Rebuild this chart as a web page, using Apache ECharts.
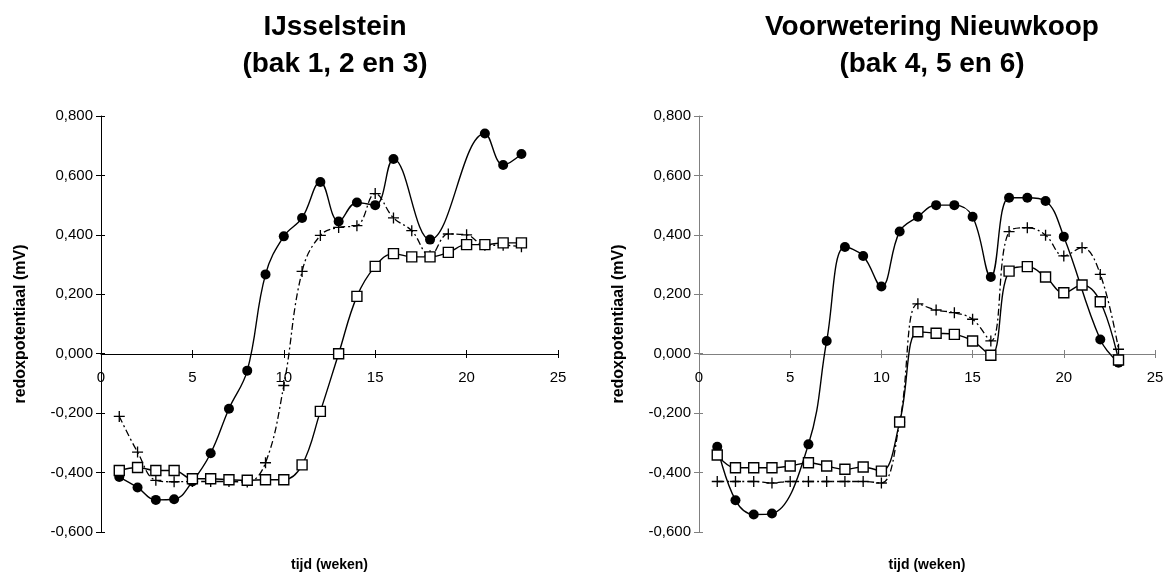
<!DOCTYPE html>
<html>
<head>
<meta charset="utf-8">
<script src="https://cdn.jsdelivr.net/npm/echarts@6/dist/echarts.min.js"></script>
<style>
html, body { margin: 0; padding: 0; background: #fff; }
#main { width: 1171px; height: 576px; }
</style>
</head>
<body>
<div id="main"></div>
<script>
// weken
var weeks = [1, 2, 3, 4, 5, 6, 7, 8, 9, 10, 11, 12, 13, 14, 15, 16, 17, 18, 19, 20, 21, 22, 23];

// IJsselstein, bak 1 / 2 / 3
var ijBak1 = [-0.415, -0.450, -0.492, -0.490, -0.430, -0.335, -0.185, -0.057, 0.267, 0.395, 0.457, 0.578,
	0.445, 0.509, 0.500, 0.655, null, 0.384, null, null, 0.741, 0.635, 0.672];
var ijBak2 = [-0.211, -0.331, -0.426, -0.431, -0.430, -0.430, -0.430, -0.432, -0.367, -0.107, 0.277, 0.398,
	0.425, 0.431, 0.539, 0.457, 0.414, 0.330, 0.403, 0.400, 0.365, 0.365, 0.360];
var ijBak3 = [-0.393, -0.383, -0.393, -0.393, -0.421, -0.421, -0.424, -0.426, -0.424, -0.424, -0.374, -0.194,
	0.000, 0.193, 0.294, 0.337, 0.326, 0.326, 0.341, 0.367, 0.367, 0.373, 0.373];

// Voorwetering Nieuwkoop, bak 4 / 5 / 6
var nkBak4 = [-0.313, -0.493, -0.541, -0.538, null, -0.305, 0.043, 0.359, 0.329, 0.226, 0.411, 0.461,
	0.500, 0.500, 0.461, 0.258, 0.525, 0.525, 0.514, 0.394, null, 0.048, -0.030];
var nkBak5 = [-0.430, -0.430, -0.430, -0.435, -0.430, -0.430, -0.430, -0.430, -0.430, -0.435, -0.230, 0.168,
	0.147, 0.138, 0.116, 0.043, 0.411, 0.424, 0.399, 0.329, 0.357, 0.267, 0.015];
var nkBak6 = [-0.341, -0.384, -0.384, -0.384, -0.378, -0.367, -0.378, -0.389, -0.381, -0.395, -0.230, 0.074,
	0.069, 0.065, 0.043, -0.005, 0.278, 0.293, 0.258, 0.205, 0.231, 0.175, -0.021];

var titles = ['IJsselstein\n(bak 1, 2 en 3)', 'Voorwetering Nieuwkoop\n(bak 4, 5 en 6)'];
var xTicks = [0, 25, 5];          // min, max, interval
var yTicks = [-0.6, 0.8, 0.2];
var fontFam = 'Liberation Sans, Arial, sans-serif';
var plusPath = 'path://M4.4,0H5.6V4.4H10V5.6H5.6V10H4.4V5.6H0V4.4H4.4Z';
// grid: top 116, hoogte 416 -> nul-lijn ligt 178 px boven de onderkant
var zeroOffset = -178;

function pairs(ys) {
	var out = [];
	for (var i = 0; i < weeks.length; i++) {
		out.push([weeks[i], ys[i]]);
	}
	return out;
}

function fmtY(v) {
	return v.toFixed(3).replace('.', ',');
}

function xAxisOf(idx, axisColor) {
	return {
		gridIndex: idx, type: 'value', position: 'bottom', offset: zeroOffset,
		min: xTicks[0], max: xTicks[1], interval: xTicks[2],
		name: 'tijd (weken)', nameLocation: 'middle', nameGap: 204,
		nameTextStyle: { fontFamily: fontFam, fontSize: 14, fontWeight: 'bold', color: '#000' },
		axisLine: { onZero: false, lineStyle: { color: axisColor, width: 1 } },
		axisTick: { length: 4, lineStyle: { color: axisColor } },
		axisLabel: { margin: 16, fontFamily: fontFam, fontSize: 15, color: '#000' },
		splitLine: { show: false }
	};
}

// tweede as alleen voor de streepjes aan de binnenkant (kruisende ticks)
function xInnerTicks(idx, axisColor) {
	return {
		gridIndex: idx, type: 'value', position: 'bottom', offset: zeroOffset,
		min: xTicks[0], max: xTicks[1], interval: xTicks[2],
		axisLine: { show: false, onZero: false },
		axisTick: { inside: true, length: 4, lineStyle: { color: axisColor } },
		axisLabel: { show: false }, splitLine: { show: false }
	};
}

function yAxisOf(idx, axisColor) {
	return {
		gridIndex: idx, type: 'value', position: 'left',
		min: yTicks[0], max: yTicks[1], interval: yTicks[2],
		name: 'redoxpotentiaal (mV)', nameLocation: 'middle', nameGap: 72,
		nameTextStyle: { fontFamily: fontFam, fontSize: 16, fontWeight: 'bold', color: '#000' },
		axisLine: { show: true, onZero: false, lineStyle: { color: axisColor, width: 1 } },
		axisTick: { show: true, length: 5, lineStyle: { color: axisColor } },
		axisLabel: { margin: 8, fontFamily: fontFam, fontSize: 15, color: '#000', formatter: fmtY },
		splitLine: { show: false }
	};
}

function yInnerTicks(idx, axisColor) {
	return {
		gridIndex: idx, type: 'value', position: 'left',
		min: yTicks[0], max: yTicks[1], interval: yTicks[2],
		axisLine: { show: false, onZero: false },
		axisTick: { show: true, inside: true, length: 4, lineStyle: { color: axisColor } },
		axisLabel: { show: false }, splitLine: { show: false }
	};
}

function dotSeries(idx, ys) {
	return {
		type: 'line', xAxisIndex: idx, yAxisIndex: idx, data: pairs(ys),
		smooth: 0.4, connectNulls: true, symbol: 'circle', symbolSize: 10,
		itemStyle: { color: '#000' }, lineStyle: { color: '#000', width: 1.4 }, z: 2
	};
}

function plusSeries(idx, ys) {
	return {
		type: 'line', xAxisIndex: idx, yAxisIndex: idx, data: pairs(ys),
		smooth: 0.4, connectNulls: true, symbol: plusPath, symbolSize: 11,
		itemStyle: { color: '#000' }, lineStyle: { color: '#000', width: 1.3, type: [7, 3, 2, 3] }, z: 3
	};
}

function squareSeries(idx, ys) {
	return {
		type: 'line', xAxisIndex: idx, yAxisIndex: idx, data: pairs(ys),
		smooth: 0.4, connectNulls: true, symbol: 'rect', symbolSize: 10,
		itemStyle: { color: '#fff', borderColor: '#000', borderWidth: 1.4 },
		lineStyle: { color: '#000', width: 1.4 }, z: 4
	};
}

var myChart = echarts.init(document.getElementById('main'));
var option = {
	backgroundColor: '#fff',
	animation: false,
	title: [
		{ text: titles[0], left: 330, top: 4, textAlign: 'center',
			textStyle: { fontFamily: fontFam, fontSize: 28, fontWeight: 'bold', lineHeight: 37, color: '#000' } },
		{ text: titles[1], left: 927, top: 4, textAlign: 'center',
			textStyle: { fontFamily: fontFam, fontSize: 28, fontWeight: 'bold', lineHeight: 37, color: '#000' } }
	],
	grid: [
		{ left: 101, right: 613, top: 116, bottom: 44, containLabel: false, outerBoundsMode: 'none' },
		{ left: 699, right: 16, top: 116, bottom: 44, containLabel: false, outerBoundsMode: 'none' }
	],
	xAxis: [xAxisOf(0, '#000'), xAxisOf(1, '#808080'), xInnerTicks(0, '#000'), xInnerTicks(1, '#808080')],
	yAxis: [yAxisOf(0, '#000'), yAxisOf(1, '#808080'), yInnerTicks(0, '#000'), yInnerTicks(1, '#808080')],
	series: [
		dotSeries(0, ijBak1), plusSeries(0, ijBak2), squareSeries(0, ijBak3),
		dotSeries(1, nkBak4), plusSeries(1, nkBak5), squareSeries(1, nkBak6)
	]
};
myChart.setOption(option);
</script>
</body>
</html>
